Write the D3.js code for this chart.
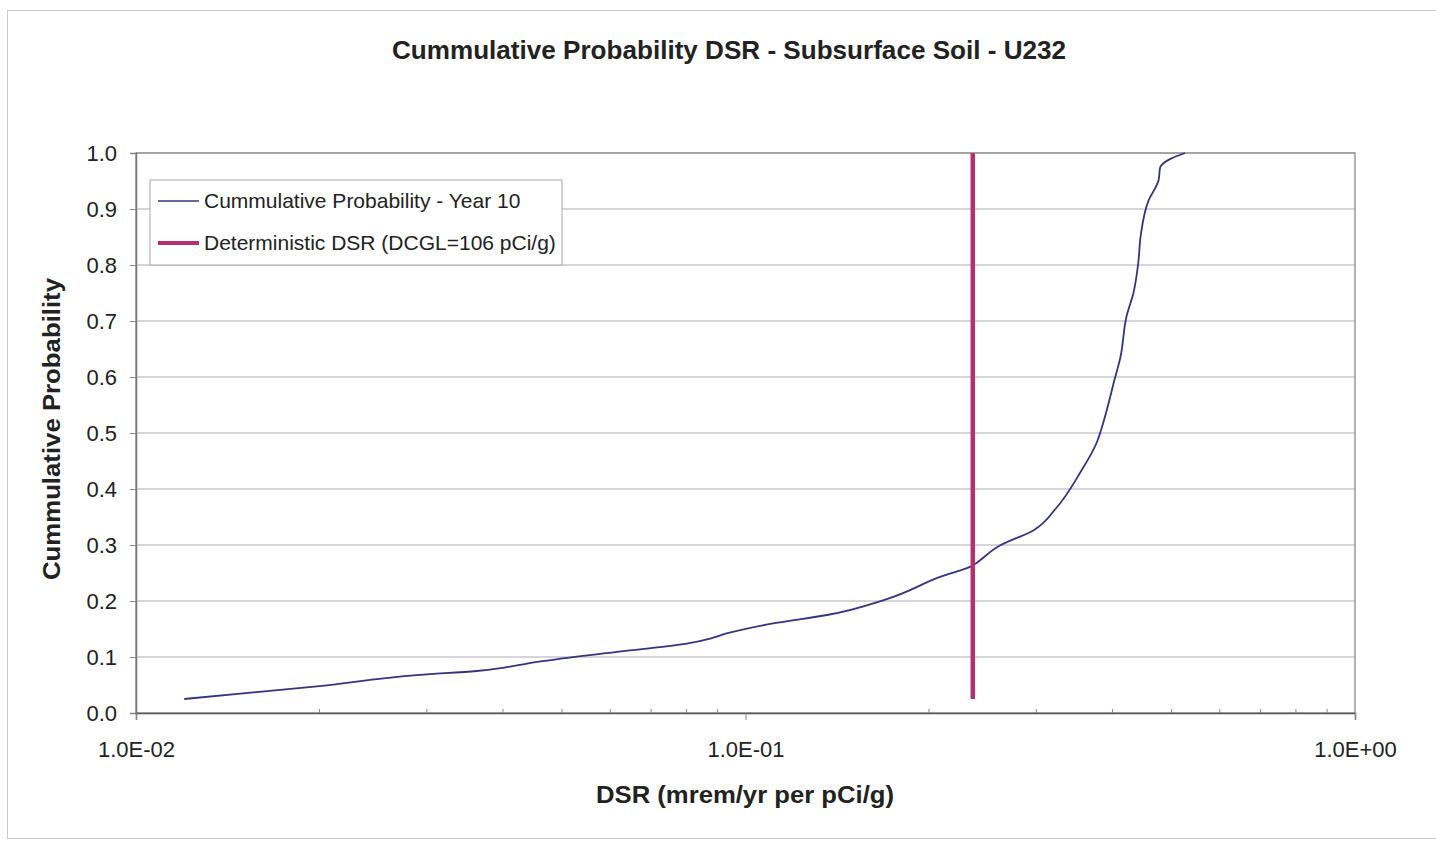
<!DOCTYPE html>
<html>
<head>
<meta charset="utf-8">
<script src="https://cdn.jsdelivr.net/npm/d3@7"></script>
<style>
  body { margin: 0; background: #fff; }
  svg text { font-family: "Liberation Sans", Arial, sans-serif; fill: #222; }
</style>
</head>
<body>
<div id="chart"></div>
<script>
// cumulative probability curve (Year 10)
var dsrValues = [0.0120, 0.0200, 0.0292, 0.0362, 0.0406, 0.0461, 0.0591, 0.0801, 0.0875, 0.0931,
  0.111, 0.136, 0.170, 0.2085, 0.2365, 0.2394, 0.2615, 0.2966, 0.324, 0.354, 0.377, 0.386,
  0.404, 0.412, 0.422, 0.433, 0.441, 0.445, 0.458, 0.476, 0.479, 0.497, 0.526];
var probValues = [0.025, 0.048, 0.068, 0.075, 0.082, 0.092, 0.107, 0.124, 0.133, 0.142,
  0.160, 0.175, 0.203, 0.243, 0.264, 0.268, 0.299, 0.326, 0.367, 0.429, 0.483, 0.517,
  0.599, 0.634, 0.709, 0.750, 0.804, 0.852, 0.914, 0.951, 0.974, 0.989, 1.0];

// deterministic DSR vertical line
var detDsr = [0.236, 0.236];
var detProb = [0.025, 1.0];

var xTicks = [0.01, 0.1, 1];
var xTickLabels = ["1.0E-02", "1.0E-01", "1.0E+00"];
var yTicks = [0, 0.1, 0.2, 0.3, 0.4, 0.5, 0.6, 0.7, 0.8, 0.9, 1.0];

var seriesNames = ["Cummulative Probability - Year 10", "Deterministic DSR (DCGL=106 pCi/g)"];
var seriesColors = ["#34357d", "#b2326f"];

var svgWidth = 1436, svgHeight = 844;
var margin = {top: 153, right: 81, bottom: 131, left: 136};
var width = svgWidth - margin.left - margin.right;
var height = svgHeight - margin.top - margin.bottom;

var svg = d3.select("#chart").append("svg")
  .attr("width", svgWidth)
  .attr("height", svgHeight);

// outer chart border
svg.append("rect")
  .attr("x", 7.5).attr("y", 10.5)
  .attr("width", 1440).attr("height", 828)
  .attr("fill", "none")
  .attr("stroke", "#c8c8c8");

var g = svg.append("g").attr("transform", `translate(${margin.left},${margin.top})`);

var x = d3.scaleLog().domain([0.01, 1]).range([0, width]);
var y = d3.scaleLinear().domain([0, 1]).range([height, 0]);

// horizontal gridlines
g.selectAll(".grid").data(yTicks.slice(1)).enter().append("line")
  .attr("x1", 0).attr("x2", width)
  .attr("y1", d => y(d)).attr("y2", d => y(d))
  .attr("stroke", "#a9a9b4").attr("stroke-width", 1);

// plot border
g.append("rect")
  .attr("width", width).attr("height", height)
  .attr("fill", "none").attr("stroke", "#8a8a8a").attr("stroke-width", 1.3);

// y axis
var yAxis = g.append("g")
  .call(d3.axisLeft(y).tickValues(yTicks).tickFormat(d3.format(".1f")).tickSize(6).tickPadding(13));
yAxis.select(".domain").attr("stroke", "#777").attr("stroke-width", 1.5);
yAxis.selectAll(".tick line").attr("stroke", "#888");
yAxis.selectAll("text").style("font-size", "22px").attr("fill", "#222");

// x axis: major ticks outside, minor ticks inside
var minorTicks = [];
[0.01, 0.1].forEach(function(dec) {
  for (var k = 2; k <= 9; k++) minorTicks.push(dec * k);
});
var xAxis = g.append("g").attr("transform", `translate(0,${height})`)
  .call(d3.axisBottom(x).tickValues(xTicks).tickFormat((d, i) => xTickLabels[i]).tickSize(7).tickPadding(21));
xAxis.select(".domain").attr("stroke", "#555").attr("stroke-width", 1.5);
xAxis.selectAll(".tick line").attr("stroke", "#888");
xAxis.selectAll("text").style("font-size", "22px").attr("fill", "#222");

g.append("g").attr("transform", `translate(0,${height})`)
  .selectAll("line").data(minorTicks).enter().append("line")
  .attr("x1", d => x(d)).attr("x2", d => x(d))
  .attr("y1", 0).attr("y2", -4)
  .attr("stroke", "#888");

// curve
var curve = dsrValues.map((d, i) => ({x: d, y: probValues[i]}));
var lineGen = d3.line().x(d => x(d.x)).y(d => y(d.y));
g.append("path").datum(curve)
  .attr("d", lineGen.curve(d3.curveMonotoneY))
  .attr("fill", "none")
  .attr("stroke", seriesColors[0])
  .attr("stroke-width", 1.8);

// deterministic line
var detLine = detDsr.map((d, i) => ({x: d, y: detProb[i]}));
g.append("path").datum(detLine)
  .attr("d", d3.line().x(d => x(d.x)).y(d => y(d.y)))
  .attr("fill", "none")
  .attr("stroke", seriesColors[1])
  .attr("stroke-width", 4.5);

// legend
var legend = g.append("g").attr("transform", "translate(14,27)");
legend.append("rect")
  .attr("width", 412).attr("height", 85)
  .attr("fill", "#fff").attr("stroke", "#a8a8b0");
seriesNames.forEach(function(name, i) {
  var ly = 21 + i * 42;
  legend.append("line")
    .attr("x1", 8).attr("x2", 49)
    .attr("y1", ly).attr("y2", ly)
    .attr("stroke", seriesColors[i])
    .attr("stroke-width", i === 0 ? 1.5 : 4);
  legend.append("text")
    .attr("x", 54).attr("y", ly)
    .attr("dy", "0.35em")
    .style("font-size", "21px")
    .text(name);
});

// titles
svg.append("text")
  .attr("x", 729).attr("y", 59)
  .attr("text-anchor", "middle")
  .attr("textLength", 674).attr("lengthAdjust", "spacingAndGlyphs")
  .style("font-size", "25px").style("font-weight", "bold")
  .text("Cummulative Probability DSR - Subsurface Soil - U232");

svg.append("text")
  .attr("x", 745).attr("y", 803)
  .attr("text-anchor", "middle")
  .attr("textLength", 298).attr("lengthAdjust", "spacingAndGlyphs")
  .style("font-size", "24px").style("font-weight", "bold")
  .text("DSR (mrem/yr per pCi/g)");

svg.append("text")
  .attr("transform", "translate(60,429) rotate(-90)")
  .attr("text-anchor", "middle")
  .attr("textLength", 302).attr("lengthAdjust", "spacingAndGlyphs")
  .style("font-size", "24px").style("font-weight", "bold")
  .text("Cummulative Probability");
</script>
</body>
</html>
